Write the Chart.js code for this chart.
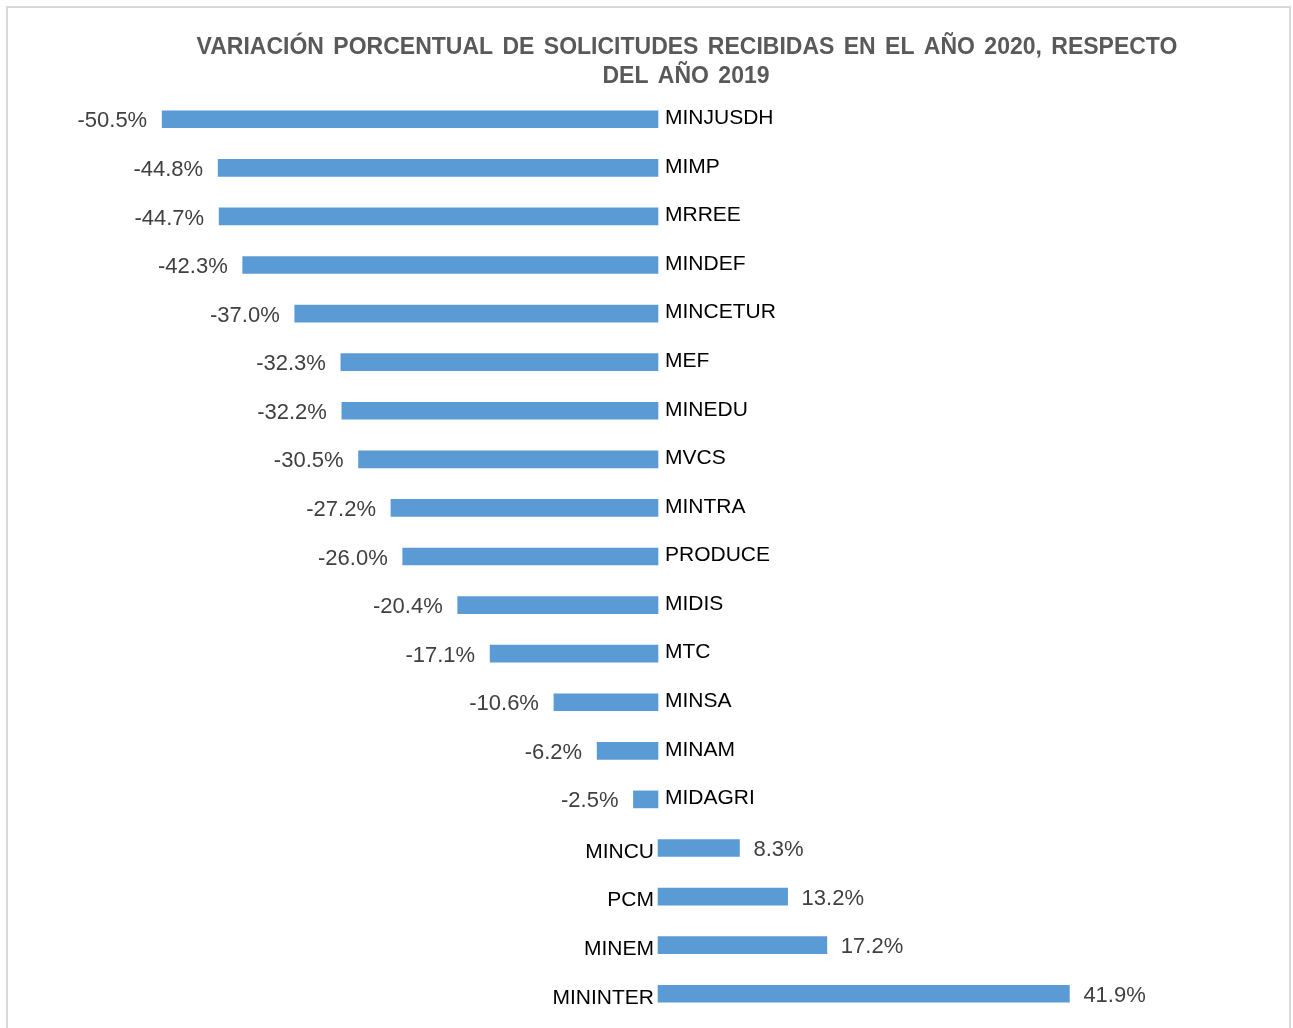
<!DOCTYPE html>
<html>
	<head>
		<meta charset="utf-8">
		<script src="https://cdn.jsdelivr.net/npm/chart.js@4"></script>
		<style>
			body { margin: 0; background: #fff; }
			#wrap { width: 1293px; height: 1028px; position: relative; }
		</style>
	</head>
	<body>
		<div id="wrap"><canvas id="myChart"></canvas></div>
		<script>
			// Data
			const titleLines = ["VARIACIÓN PORCENTUAL DE SOLICITUDES RECIBIDAS EN EL AÑO 2020, RESPECTO", "DEL AÑO 2019"];
			const categories = ["MINJUSDH", "MIMP", "MRREE", "MINDEF", "MINCETUR", "MEF", "MINEDU", "MVCS", "MINTRA", "PRODUCE",
				"MIDIS", "MTC", "MINSA", "MINAM", "MIDAGRI", "MINCU", "PCM", "MINEM", "MININTER"];
			const variation = [-50.5, -44.8, -44.7, -42.3, -37.0, -32.3, -32.2, -30.5, -27.2, -26.0,
				-20.4, -17.1, -10.6, -6.2, -2.5, 8.3, 13.2, 17.2, 41.9];

			const font = "'Liberation Sans', Arial, sans-serif";

			// draws frame, title, category names next to zero and value labels at bar ends
			const labelsPlugin = {
				id: 'labels',
				beforeDraw(chart) {
					const c = chart.ctx;
					c.save();
					c.fillStyle = '#fff';
					c.fillRect(0, 0, chart.width, chart.height);
					c.strokeStyle = '#d9d9d9';
					c.lineWidth = 2;
					c.strokeRect(7, 7, chart.width - 10, chart.height + 20);
					c.restore();
				},
				afterDatasetsDraw(chart) {
					const c = chart.ctx;
					const x = chart.scales.x;
					const zero = x.getPixelForValue(0);
					c.save();
					c.fillStyle = '#595959';
					c.font = "bold 23px " + font;
					c.wordSpacing = '3px';
					c.textAlign = 'center';
					c.textBaseline = 'middle';
					c.fillText(titleLines[0], 687, 48);
					c.fillText(titleLines[1], 686, 77);
					c.wordSpacing = '0px';

					const meta = chart.getDatasetMeta(0);
					meta.data.forEach((bar, i) => {
						const v = variation[i];
						const txt = v.toFixed(1) + '%';
						if (v < 0) {
							c.font = "21px " + font;
							c.fillStyle = '#000';
							c.textAlign = 'left';
							c.fillText(categories[i], zero + 7, bar.y - 1);
							c.font = "22px " + font;
							c.fillStyle = '#404040';
							c.textAlign = 'right';
							c.fillText(txt, bar.x - 15, bar.y + 2);
						} else {
							c.font = "21px " + font;
							c.fillStyle = '#000';
							c.textAlign = 'right';
							c.fillText(categories[i], zero - 4, bar.y + 4);
							c.font = "22px " + font;
							c.fillStyle = '#404040';
							c.textAlign = 'left';
							c.fillText(txt, bar.x + 14, bar.y + 2);
						}
					});
					c.restore();
				}
			};

			let ctx = document.getElementById('myChart').getContext('2d');
			let chart = new Chart(ctx, {
				type: 'bar',
				data: {
					labels: categories,
					datasets: [{
						data: variation,
						backgroundColor: '#5b9bd5',
						barThickness: 17,
					}]
				},
				options: {
					indexAxis: 'y',
					responsive: true,
					maintainAspectRatio: false,
					animation: false,
					layout: { padding: { left: 118, right: 95, top: 95, bottom: 10 } },
					plugins: {
						legend: { display: false },
						tooltip: { enabled: false }
					},
					scales: {
						x: { min: -55, max: 55, display: false },
						y: { display: false, offset: true }
					}
				},
				plugins: [labelsPlugin]
			});
		</script>
	</body>
</html>
